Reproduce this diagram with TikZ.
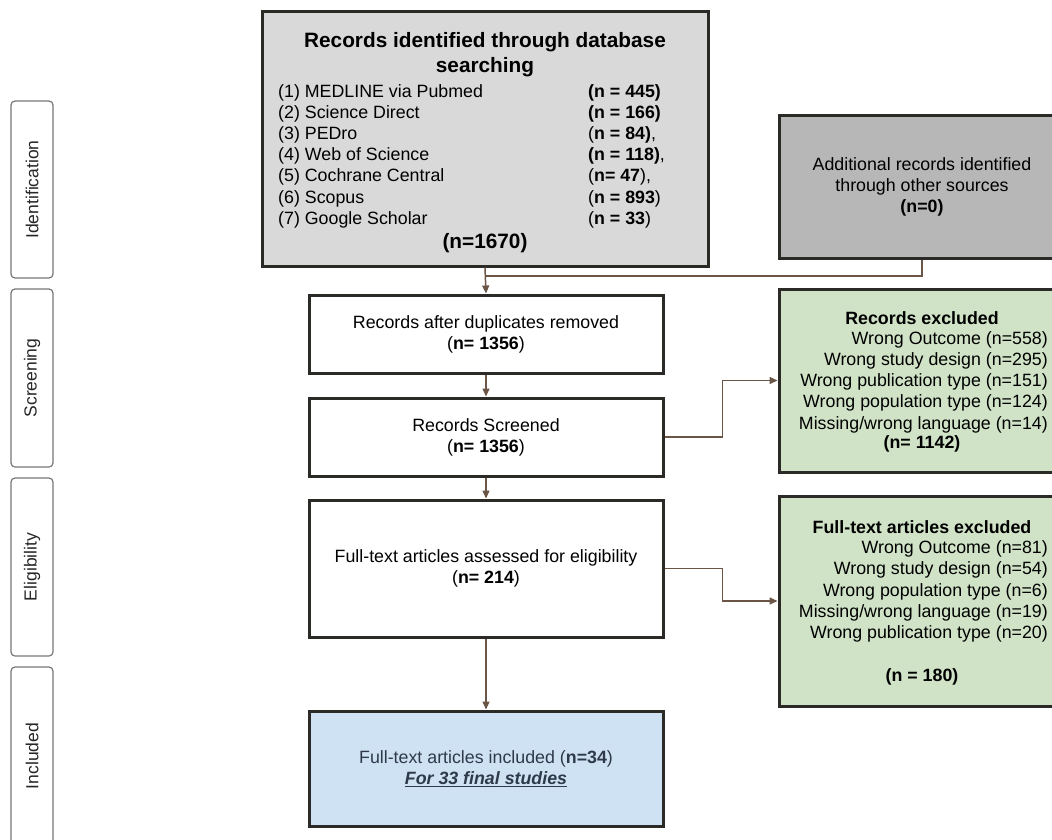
\documentclass[tikz,border=0pt]{standalone}
\usepackage{fontspec}
\setmainfont{Liberation Sans}
\usetikzlibrary{arrows.meta}
\definecolor{bordc}{HTML}{2B2A27}
\definecolor{connc}{HTML}{6B5547}
\definecolor{topfill}{HTML}{D9D9D9}
\definecolor{grayfill}{HTML}{B7B7B7}
\definecolor{greenfill}{HTML}{D0E3C7}
\definecolor{bluefill}{HTML}{CFE2F3}
\definecolor{stagec}{HTML}{777777}
\definecolor{incltext}{HTML}{2E3A4B}
\newcommand{\bodyf}{\fontsize{17.8}{21.2}\selectfont}
\newcommand{\headf}{\fontsize{20.8}{25}\selectfont\bfseries}
\newcommand{\stagef}{\fontsize{17.5}{19}\selectfont}
\tikzset{
  box/.style={draw=bordc, line width=3pt, inner sep=0pt, align=center, font=\bodyf},
  txt/.style={inner sep=0pt, font=\bodyf},
  conn/.style={draw=connc, line width=1.5pt},
  arr/.style={conn, -{Triangle[length=8pt,width=7pt]}},
  stage/.style={draw=stagec, line width=1.2pt, rounded corners=4pt, inner sep=0pt, font=\stagef, text=black!85}
}
\begin{document}
\begin{tikzpicture}[x=1pt,y=-1pt]
\path[use as bounding box] (0,0) rectangle (1052,840);
\clip (0,0) rectangle (1052,840);
% stage labels
\node[stage, minimum width=177pt, minimum height=42pt, rotate=90] (sid) at (32,189.5) {Identification};
\node[stage, minimum width=178pt, minimum height=42pt, rotate=90] (ssc) at (32,378) {Screening};
\node[stage, minimum width=178pt, minimum height=42pt, rotate=90] (sel) at (32,567) {Eligibility};
\node[stage, minimum width=178pt, minimum height=42pt, rotate=90] (sin) at (32,756) {Included};
% top box
\node[box, fill=topfill, minimum width=446pt, minimum height=254pt] (top) at (485,139) {};
\node[txt, font=\headf, align=center] (toph) at (485,54.5) {Records identified through database\\searching};
\node[txt, anchor=west, align=left] (topl) at (278,156) {(1) MEDLINE via Pubmed\\(2) Science Direct\\(3) PEDro\\(4) Web of Science\\(5) Cochrane Central\\(6) Scopus\\(7) Google Scholar};
\node[txt, anchor=west, align=left] (topr) at (588,156) {\textbf{(n = 445)}\\\textbf{(n = 166)}\\(\textbf{n = 84)},\\\textbf{(n = 118)},\\(\textbf{n= 47}),\\(\textbf{n = 893})\\(\textbf{n = 33})};
\node[txt, font=\headf] (topn) at (485,243) {(n=1670)};
% additional records
\node[box, fill=grayfill, minimum width=286pt, minimum height=142pt] (add) at (922,187) {Additional records identified\\through other sources\\\textbf{(n=0)}};
% main column
\node[box, fill=white, minimum width=354pt, minimum height=78pt] (after) at (486,334) {Records after duplicates removed\\(\textbf{n= 1356})};
\node[box, fill=white, minimum width=354pt, minimum height=78pt] (scr) at (486,437) {Records Screened\\(\textbf{n= 1356})};
\node[box, fill=white, minimum width=354pt, minimum height=137pt] (ass) at (486,568.5) {Full-text articles assessed for eligibility\\(\textbf{n= 214})};
\node[box, fill=bluefill, text=incltext, minimum width=354pt, minimum height=115pt] (inc) at (486,768.5) {Full-text articles included (\textbf{n=34})\\\underline{\textbf{\textit{For 33 final studies}}}};
% excluded boxes
\node[box, fill=greenfill, minimum width=286pt, minimum height=183pt] (ex1) at (922,380.5) {};
\node[txt, font=\bodyf\bfseries] (ex1h) at (922,318) {Records excluded};
\node[txt, anchor=east, align=right] (ex1l) at (1048,382) {Wrong Outcome (n=558)\\Wrong study design (n=295)\\Wrong publication type (n=151)\\Wrong population type (n=124)\\Missing/wrong language (n=14)};
\node[txt, font=\bodyf\bfseries] (ex1n) at (922,444) {(n= 1142)};
\node[box, fill=greenfill, minimum width=286pt, minimum height=210pt] (ex2) at (922,601) {};
\node[txt, font=\bodyf\bfseries] (ex2h) at (922,527) {Full-text articles excluded};
\node[txt, anchor=east, align=right] (ex2l) at (1048,591.5) {Wrong Outcome (n=81)\\Wrong study design (n=54)\\Wrong population type (n=6)\\Missing/wrong language (n=19)\\Wrong publication type (n=20)};
\node[txt, font=\bodyf\bfseries] (ex2n) at (922,677) {(n = 180)};
% connectors
\coordinate (j) at (top.south |- 0,276);
\draw[conn] (add.south) |- (j);
\draw[arr] (top.south) -- (after.north);
\draw[arr] (after.south) -- (scr.north);
\draw[arr] (scr.south) -- (ass.north);
\draw[arr] (scr.east) -- ++(58,0) |- (ex1.west);
\draw[arr] (ass.east) -- ++(58,0) |- (ex2.west);
\draw[arr] (ass.south) -- (inc.north);
\end{tikzpicture}
\end{document}
